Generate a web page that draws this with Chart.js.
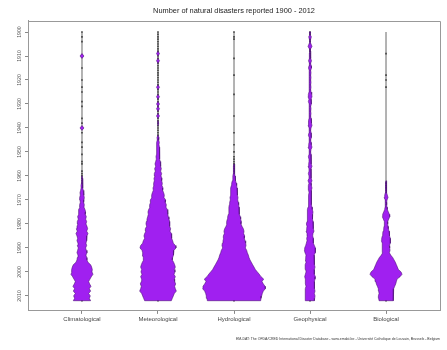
<!DOCTYPE html>
<html>
<head>
<meta charset="utf-8">
<script src="https://cdn.jsdelivr.net/npm/chart.js@4.4.1/dist/chart.umd.min.js"></script>
<style>
  html, body { margin: 0; padding: 0; background: #ffffff; }
  #wrap { width: 447px; height: 350px; }
</style>
</head>
<body>
<div id="wrap"><canvas id="chart" width="447" height="350"></canvas></div>
<script>
// Disaster groups along the horizontal axis
const categories = ['Climatological', 'Meteorological', 'Hydrological', 'Geophysical', 'Biological'];

// Year span and labelled years on the vertical axis
const firstYear = 1900;
const lastYear = 2012;
const yearTicks = [1900, 1910, 1920, 1930, 1940, 1950, 1960, 1970, 1980, 1990, 2000, 2010];

// Disasters reported per year, 1900 .. 2012 (one row per decade, last row 2000-2012)
const climatological = [
  1, 0, 2, 0, 1, 0, 0, 0, 0, 0,
  12, 0, 0, 0, 0, 1, 0, 0, 0, 0,
  1, 0, 0, 1, 0, 2, 0, 0, 0, 1,
  0, 1, 0, 0, 0, 0, 2, 0, 1, 0,
  12, 0, 1, 0, 0, 0, 1, 0, 2, 0,
  0, 1, 0, 0, 1, 2, 0, 0, 2, 1,
  2, 3, 4, 3, 6, 5, 8, 12, 10, 14,
  12, 10, 14, 12, 18, 22, 20, 26, 22, 28,
  24, 30, 34, 28, 36, 30, 26, 30, 24, 28,
  22, 26, 30, 24, 28, 30, 36, 52, 58, 62,
  60, 66, 56, 48, 40, 46, 54, 44, 52, 40, 50, 44, 52
];
const meteorological = [
  2, 1, 2, 1, 2, 1, 2, 1, 2, 9,
  1, 2, 9, 1, 2, 1, 2, 1, 1, 2,
  1, 2, 1, 9, 2, 1, 2, 9, 1, 2,
  9, 1, 9, 2, 1, 9, 2, 1, 4, 2,
  1, 2, 1, 2, 6, 4, 8, 6, 9, 8,
  10, 9, 12, 10, 14, 18, 14, 20, 16, 22,
  18, 24, 22, 26, 24, 30, 28, 34, 38, 36,
  46, 44, 50, 48, 56, 60, 58, 62, 66, 70,
  72, 68, 76, 72, 80, 84, 80, 88, 92, 104,
  108, 96, 92, 94, 88, 86, 94, 100, 104, 98,
  102, 96, 104, 98, 100, 106, 100, 104, 110, 98, 92, 86, 80
];
const hydrological = [
  1, 0, 1, 1, 0, 0, 0, 0, 0, 0,
  0, 1, 0, 0, 0, 0, 0, 0, 1, 0,
  0, 0, 0, 0, 0, 0, 1, 0, 0, 0,
  0, 0, 0, 0, 0, 1, 0, 0, 0, 0,
  0, 0, 1, 0, 0, 0, 0, 1, 0, 0,
  1, 0, 1, 1, 2, 1, 3, 3, 4, 4,
  6, 8, 10, 14, 16, 18, 20, 22, 20, 24,
  22, 26, 28, 30, 32, 30, 34, 38, 40, 44,
  42, 48, 56, 60, 58, 64, 62, 66, 70, 72,
  68, 76, 80, 86, 90, 96, 104, 112, 120, 128,
  140, 152, 162, 178, 168, 176, 186, 188, 176, 170, 166, 162, 160
];
const geophysical = [
  4, 2, 8, 4, 2, 6, 12, 4, 2, 4,
  4, 4, 9, 4, 6, 9, 4, 6, 4, 6,
  4, 6, 4, 6, 4, 6, 10, 12, 6, 10,
  6, 4, 6, 4, 6, 4, 6, 8, 10, 12,
  6, 4, 6, 10, 6, 4, 6, 8, 12, 6,
  4, 6, 10, 6, 6, 8, 12, 6, 6, 10,
  6, 6, 12, 6, 8, 12, 8, 6, 8, 10,
  8, 10, 8, 12, 14, 18, 16, 14, 16, 18,
  22, 18, 20, 24, 18, 16, 20, 18, 22, 26,
  32, 34, 30, 24, 26, 28, 24, 28, 30, 26,
  24, 28, 32, 30, 26, 28, 24, 28, 30, 26, 30, 28, 26
];
const biological = [
  0, 0, 0, 0, 0, 0, 0, 0, 0, 1,
  0, 0, 0, 0, 0, 0, 0, 0, 1, 0,
  1, 0, 0, 1, 0, 0, 0, 0, 0, 0,
  0, 0, 0, 0, 0, 0, 0, 0, 0, 0,
  0, 0, 0, 0, 0, 0, 0, 0, 0, 0,
  0, 0, 0, 0, 0, 0, 0, 0, 0, 0,
  0, 0, 0, 3, 3, 3, 3, 4, 8, 12,
  6, 4, 4, 6, 8, 14, 20, 22, 16, 10,
  10, 12, 14, 18, 20, 22, 26, 28, 24, 20,
  22, 24, 20, 28, 40, 48, 56, 62, 68, 74,
  90, 96, 84, 66, 62, 58, 52, 46, 44, 42, 46, 44, 42
];

const series = [climatological, meteorological, hydrological, geophysical, biological];

// Half-width of a bean, in category-axis units, per reported disaster
const HALF_WIDTH_PER_EVENT = 1 / 456;
// Years with fewer reports than this only get a dark mark on the spine
const MIN_BEAN_COUNT = 3;

const BEAN_FILL = '#a020f0';
const BEAN_EDGE = 'rgba(78, 18, 120, 0.85)';

const years = [];
for (let y = firstYear; y <= lastYear; y++) years.push(y);

// One closed outline per run of consecutive years with enough reports
function beanOutlines(values, center) {
  const w = values.map(v => (v >= MIN_BEAN_COUNT ? v : 0));
  const shapes = [];
  let k = 0;
  while (k < w.length) {
    if (w[k] <= 0) { k++; continue; }
    let end = k;
    while (end + 1 < w.length && w[end + 1] > 0) end++;
    const a = Math.max(k - 1, 0);
    const b = Math.min(end + 1, w.length - 1);
    const pts = [];
    for (let j = a; j <= b; j++) pts.push({ x: center + w[j] * HALF_WIDTH_PER_EVENT, y: years[j] });
    for (let j = b; j >= a; j--) pts.push({ x: center - w[j] * HALF_WIDTH_PER_EVENT, y: years[j] });
    pts.push({ x: pts[0].x, y: pts[0].y });
    shapes.push(pts);
    k = end + 1;
  }
  return shapes;
}

const datasets = [];
categories.forEach((name, i) => {
  // thin spine running through the whole period
  datasets.push({
    label: name + ' spine',
    data: [{ x: i, y: firstYear }, { x: i, y: lastYear }],
    borderColor: '#a8a8a8',
    borderWidth: 1,
    pointRadius: 0,
    fill: false,
    order: 3
  });
  // a small dark mark on the spine for every year with at least one report
  datasets.push({
    label: name + ' years',
    data: years.filter((y, j) => series[i][j] > 0).map(y => ({ x: i, y })),
    showLine: false,
    pointStyle: 'rect',
    pointRadius: 1.2,
    pointBorderWidth: 0,
    backgroundColor: '#474747',
    borderColor: '#474747',
    order: 2
  });
  beanOutlines(series[i], i).forEach((pts, n) => {
    datasets.push({
      label: name + ' ' + n,
      data: pts,
      borderColor: BEAN_EDGE,
      borderWidth: 0.7,
      backgroundColor: BEAN_FILL,
      fill: 'shape',
      pointRadius: 0,
      tension: 0,
      order: 1
    });
  });
});

// Top and right edges of the plotting box
const boxEdges = {
  id: 'boxEdges',
  afterDraw(chart) {
    const { ctx, chartArea: a } = chart;
    ctx.save();
    ctx.strokeStyle = '#999999';
    ctx.lineWidth = 1;
    ctx.beginPath();
    ctx.moveTo(a.left, Math.round(a.top) + 0.5);
    ctx.lineTo(Math.round(a.right) + 0.5, Math.round(a.top) + 0.5);
    ctx.lineTo(Math.round(a.right) + 0.5, a.bottom);
    ctx.stroke();
    ctx.restore();
  }
};

const FONT = "'Liberation Sans', Arial, sans-serif";

new Chart(document.getElementById('chart'), {
  type: 'line',
  data: { datasets },
  plugins: [boxEdges],
  options: {
    responsive: false,
    animation: false,
    devicePixelRatio: 1,
    layout: { padding: { top: 0, right: 7, bottom: 0, left: 0 } },
    plugins: {
      legend: { display: false },
      tooltip: { enabled: false },
      title: {
        display: true,
        fullSize: false,
        text: 'Number of natural disasters reported 1900 - 2012',
        color: '#222222',
        font: { family: FONT, size: 7.4, weight: 'normal' },
        padding: { top: 6.8, bottom: 5.3 }
      },
      subtitle: {
        display: true,
        fullSize: false,
        position: 'bottom',
        align: 'end',
        text: 'EM-DAT: The OFDA/CRED International Disaster Database - www.emdat.be - Université Catholique de Louvain, Brussels - Belgium',
        color: '#333333',
        font: { family: FONT, size: 3.5, weight: 'normal' },
        padding: { top: 4.3, bottom: 8.6 }
      }
    },
    scales: {
      x: {
        type: 'linear',
        min: -0.71,
        max: 4.71,
        afterBuildTicks: s => { s.ticks = categories.map((_, i) => ({ value: i })); },
        afterFit: s => { s.height = 22; },
        grid: { drawOnChartArea: false, drawTicks: true, tickLength: 3, color: '#888888' },
        border: { display: true, color: '#999999', width: 1 },
        ticks: {
          autoSkip: false,
          minRotation: 0,
          maxRotation: 0,
          padding: 2,
          color: '#444444',
          font: { family: FONT, size: 6 },
          callback: v => categories[v]
        }
      },
      y: {
        type: 'linear',
        reverse: true,
        min: 1895.4,
        max: 2016.25,
        afterBuildTicks: s => { s.ticks = yearTicks.map(v => ({ value: v })); },
        afterFit: s => { s.width = 28; },
        grid: { drawOnChartArea: false, drawTicks: true, tickLength: 3, color: '#888888' },
        border: { display: true, color: '#999999', width: 1 },
        ticks: {
          minRotation: 90,
          maxRotation: 90,
          crossAlign: 'center',
          padding: 0,
          color: '#555555',
          font: { family: FONT, size: 5.2 },
          callback: v => String(v)
        }
      }
    }
  }
});
</script>
</body>
</html>
